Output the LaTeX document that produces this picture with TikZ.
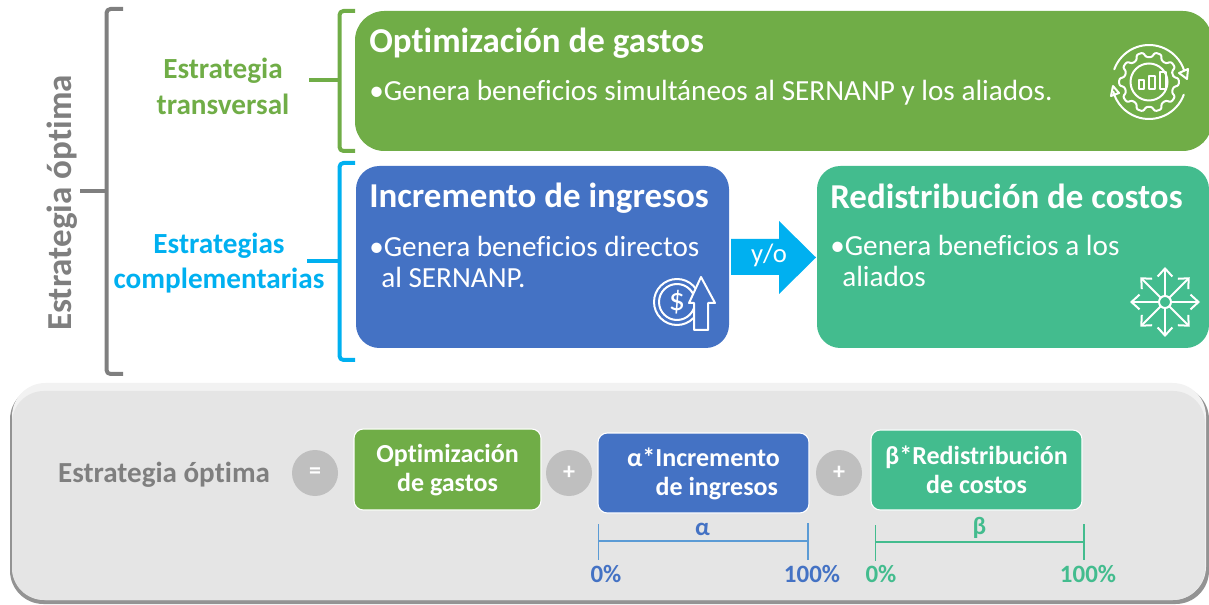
\documentclass[tikz,border=0pt]{standalone}
\usepackage{fontspec}
\setmainfont{Carlito}[Ligatures=CommonOff]
\usetikzlibrary{arrows.meta,calc}
\definecolor{cgreen}{HTML}{70AD47}
\definecolor{cblue}{HTML}{4472C4}
\definecolor{cteal}{HTML}{43BC8E}
\definecolor{ccyan}{HTML}{00B0F0}
\definecolor{cgray}{HTML}{7F7F7F}
\definecolor{cpanel}{HTML}{E5E5E5}
\definecolor{ccirc}{HTML}{BFBFBF}
\definecolor{cscale}{HTML}{5B9BD5}
\newcommand{\fsz}[1]{\fontsize{#1}{#1}\selectfont}
\tikzset{
  bracketline/.style={line width=3pt,line join=round},
  bigbox/.style={rounded corners=17.5pt,draw=none},
  title/.style={anchor=west,text=white,font=\fsz{26.2}\bfseries,inner sep=0pt},
  bodytext/.style={anchor=west,text=white,font=\fsz{21.9},inner sep=0pt,align=left},
  side/.style={font=\fsz{21.9}\bfseries,align=center,inner sep=0pt},
  smallbox/.style={rounded corners=7pt,draw=white,line width=0.8pt},
  smalltext/.style={text=white,font=\fsz{19.5}\bfseries,align=center,inner sep=0pt},
  opcircle/.style={circle,fill=ccirc,draw=none,minimum size=34.5pt,inner sep=0pt,text=white,font=\fsz{18}\bfseries},
  pct/.style={font=\fsz{18.7}\bfseries,inner sep=0pt},
  icon/.style={draw=white,line width=1.5pt,line cap=round,line join=round},
  scaleline/.style={line width=1.4pt},
}
\begin{document}
\begin{tikzpicture}[x=0.75pt,y=-0.75pt]
\useasboundingbox (0,0) rectangle (1209,605);
% panel with bevel
\fill[gray!85,rounded corners=25pt] (10,386) rectangle (1209,604);
\fill[white!90!gray,rounded corners=25pt] (12,383) rectangle (1206,600);
\fill[cpanel,rounded corners=24pt] (12,391) rectangle (1205,600);

% large boxes
\fill[cgreen,rounded corners=22pt] (355,11) rectangle (1212,151);
\fill[cblue,bigbox] (356,166) rectangle (729,348);
\fill[cteal,bigbox] (817,166) rectangle (1209,348);

\node[title] (t1) at (369,43.5) {Optimización de gastos};
\node[bodytext] (b1) at (369,93) {•Genera beneficios simultáneos al SERNANP y los aliados.};
\node[title] (t2) at (369,198) {Incremento de ingresos};
\node[bodytext] (b2a) at (369,246) {•Genera beneficios directos};
\node[bodytext] (b2b) at (381,277) {al SERNANP.};
\node[title] (t3) at (830,196) {Redistribución de costos};
\node[bodytext] (b3a) at (830,245) {•Genera beneficios a los};
\node[bodytext] (b3b) at (842,276) {aliados};

% block arrow
\fill[ccyan] (731,239) -- (779,239) -- (779,221) -- (816,257.5) -- (779,294) -- (779,275) -- (731,275) -- cycle;
\node[text=white,font=\fsz{20},inner sep=0pt] (yo) at (769,255) {y/o};

% brackets
\coordinate (gt) at (123,9); \coordinate (gb) at (123,374); \coordinate (gs) at (80,191);
\draw[bracketline,cgray] (gt) -- (111,9) [rounded corners=3pt] -- (106.5,9) -- (106.5,374) [sharp corners] -- (gb);
\draw[bracketline,cgray] (gs) -- (106.5,191);
\coordinate (at) at (355,11); \coordinate (ab) at (355,151); \coordinate (as) at (309,80.5);
\draw[bracketline,cgreen] (at) [rounded corners=3pt] -- (339.5,11) -- (339.5,151) [sharp corners] -- (ab);
\draw[bracketline,cgreen] (as) -- (339.5,80.5);
\coordinate (ct) at (355,163); \coordinate (cb) at (355,360); \coordinate (cs) at (307,261);
\draw[bracketline,ccyan] (ct) [rounded corners=3pt] -- (339.5,163) -- (339.5,360) [sharp corners] -- (cb);
\draw[bracketline,ccyan] (cs) -- (339.5,261);

% side labels
\node[side,text=cgreen] (s1a) at (223,71) {Estrategia};
\node[side,text=cgreen] (s1b) at (223,104) {transversal};
\node[side,text=ccyan] (s2a) at (219,246) {Estrategias};
\node[side,text=ccyan] (s2b) at (219,280.5) {complementarias};
\node[rotate=90,text=cgray,font=\fsz{26.3}\bfseries,inner sep=0pt] (main) at (62,203) {Estrategia óptima};

% formula row
\node[text=cgray,font=\fsz{21.8}\bfseries,inner sep=0pt] (f0) at (164,475) {Estrategia óptima};
\node[opcircle] (eq) at (315,473) {=};
\draw[smallbox,fill=cgreen] (354,429) rectangle (541,510);
\node[smalltext] (f1) at (447.5,470) {Optimización\\[2pt]de gastos};
\node[opcircle] (p1) at (569,473) {+};
\draw[smallbox,fill=cblue] (598,433) rectangle (809,513);
\node[smalltext] (f2) at (703.5,474) {α*Incremento\\[2pt]\hspace{20pt}de ingresos};
\node[opcircle] (p2) at (839,473) {+};
\draw[smallbox,fill=cteal] (871,430) rectangle (1082,510);
\node[smalltext] (f3) at (976.5,470) {β*Redistribución\\[2pt]de costos};

% scales
\coordinate (a0t) at (598.5,524); \coordinate (a0b) at (598.5,560);
\coordinate (a1t) at (808,523); \coordinate (a1b) at (808,560);
\draw[scaleline,cscale] (a0t) -- (a0b);
\draw[scaleline,cscale] (a1t) -- (a1b);
\draw[scaleline,cscale] (598.5,541) -- (808,541);
\coordinate (b0t) at (875.5,525); \coordinate (b0b) at (875.5,561);
\coordinate (b1t) at (1084,524); \coordinate (b1b) at (1084,560);
\draw[scaleline,cteal] (b0t) -- (b0b);
\draw[scaleline,cteal] (b1t) -- (b1b);
\draw[scaleline,cteal] (875.5,542) -- (1084,542);
\node[pct,text=cblue] (la) at (702.5,529) {α};
\node[pct,text=cteal] (lb) at (979.5,528) {β};
\node[pct,text=cblue] (a0) at (606,574) {0\%};
\node[pct,text=cblue] (a1) at (812,574) {100\%};
\node[pct,text=cteal] (b0) at (881,574) {0\%};
\node[pct,text=cteal] (b1) at (1088,574) {100\%};

% gear icon
\begin{scope}[shift={(1149,82)}]
  \draw[icon] circle (18.5);
  \draw[icon,rounded corners=1.6pt] (-18:25)
    \foreach \k in {0,36,...,324}{
      -- (\k-11:25) -- (\k-7:30) -- (\k+7:30) -- (\k+11:25)
    } -- cycle;
  \draw[icon] (200:37) arc[start angle=200,end angle=342,radius=37];
  \draw[icon] (20:37) arc[start angle=20,end angle=165,radius=37];
  \draw[icon] (-10,7) rectangle (-5,-2);
  \draw[icon] (0,7) rectangle (5.5,-6);
  \draw[icon] (10.5,7) rectangle (16.5,-10);
  \draw[icon] (30,-9) -- (39,-13) -- (38,-3) -- cycle;
  \draw[icon] (-30,11) -- (-38,14) -- (-36,4) -- cycle;
\end{scope}

% dollar icon
\begin{scope}[shift={(677,302)}]
  \draw[icon] circle (23);
  \draw[icon] circle (18);
  \node[text=white,font=\fsz{24},inner sep=0pt] (dollar) at (0,0) {\$};
\end{scope}
\draw[icon,fill=cblue] (701,277) -- (715,303) -- (708,303) -- (708,330) -- (694,330) -- (694,303) -- (689,303) -- cycle;

% radial arrows icon
\begin{scope}[shift={(1165,302)}]
  \draw[icon] circle (6);
  \foreach \a in {0,45,...,315}{
    \draw[icon,-{Straight Barb[length=6pt,width=11pt,line width=1.5pt]}] (\a:6) -- (\a:35);
  }
\end{scope}
\end{tikzpicture}
\end{document}
